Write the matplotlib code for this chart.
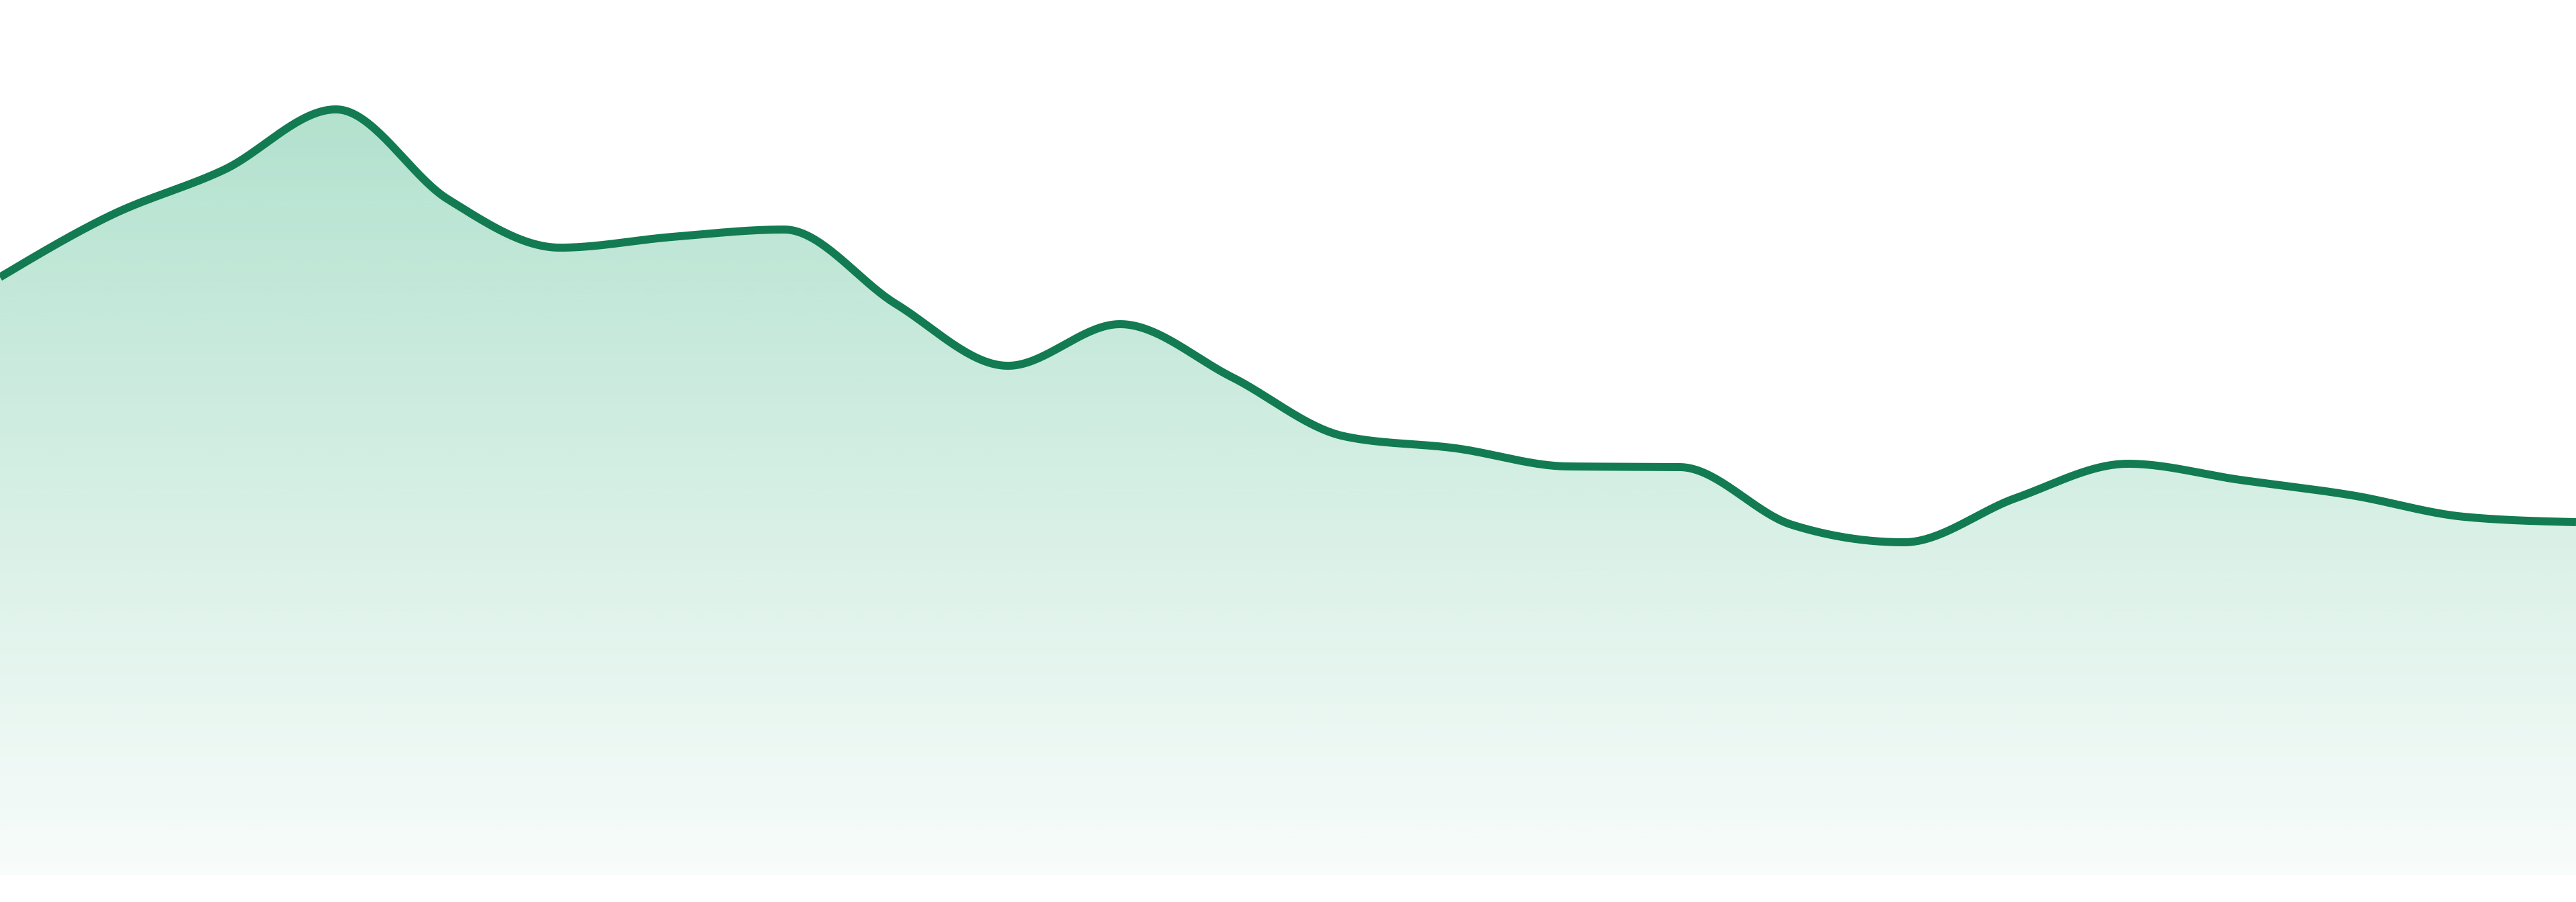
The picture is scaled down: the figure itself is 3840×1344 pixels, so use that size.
import numpy as np
import matplotlib
matplotlib.use("Agg")
import matplotlib.pyplot as plt
from matplotlib.patches import Polygon

# data (arbitrary units)
x_idx = list(range(24))
values = [891, 984, 1051, 1141, 1007, 935, 951, 962, 851, 759, 821, 742,
          654, 636, 609, 608, 522, 496, 562, 613, 589, 566, 534, 526]

line_color = "#127b52"
fill_rgb = (16, 163, 103)


def monotone_x(x, y, n=40):
    x = np.asarray(x, float); y = np.asarray(y, float)
    h = np.diff(x); s = np.diff(y) / h
    m = np.zeros_like(y)
    for i in range(1, len(y) - 1):
        if s[i - 1] * s[i] <= 0:
            m[i] = 0
        else:
            p = (s[i - 1] * h[i] + s[i] * h[i - 1]) / (h[i - 1] + h[i])
            m[i] = (np.sign(s[i - 1]) + np.sign(s[i])) * min(abs(s[i - 1]), abs(s[i]), 0.5 * abs(p))
    m[0] = (3 * s[0] - m[1]) / 2 if len(y) > 2 else s[0]
    m[-1] = (3 * s[-1] - m[-2]) / 2
    xs, ys = [], []
    for i in range(len(x) - 1):
        t = np.linspace(0, 1, n, endpoint=(i == len(x) - 2))
        h00 = 2 * t**3 - 3 * t**2 + 1
        h10 = t**3 - 2 * t**2 + t
        h01 = -2 * t**3 + 3 * t**2
        h11 = t**3 - t**2
        xs.append(x[i] + t * h[i])
        ys.append(h00 * y[i] + h10 * h[i] * m[i] + h01 * y[i + 1] + h11 * h[i] * m[i + 1])
    return np.concatenate(xs), np.concatenate(ys)


fig = plt.figure(figsize=(19.2, 6.72), dpi=200)
ax = fig.add_axes([0, 40 / 1344, 1, 1304 / 1344])
ax.set_xlim(0, 23)
ax.set_ylim(0, 1304)
ax.axis("off")

xs, ys = monotone_x(x_idx, values)

# gradient fill
ymax = max(values)
grad = np.zeros((256, 1, 4))
frac = np.linspace(0, 1, 256)  # 0 bottom, 1 top
alpha = 0.03 + (0.32 - 0.03) * frac
grad[:, 0, 0] = fill_rgb[0] / 255
grad[:, 0, 1] = fill_rgb[1] / 255
grad[:, 0, 2] = fill_rgb[2] / 255
grad[:, 0, 3] = alpha
im = ax.imshow(grad, extent=(0, 23, 0, ymax), origin="lower", aspect="auto", zorder=1,
               interpolation="bilinear")
poly = Polygon(np.column_stack([np.r_[xs, xs[-1], xs[0]], np.r_[ys, 0, 0]]),
               closed=True, facecolor="none", edgecolor="none")
ax.add_patch(poly)
im.set_clip_path(poly)

ax.plot(xs, ys, color=line_color, lw=4.3, solid_capstyle="butt", zorder=3)

fig.savefig("out.png", dpi=200, facecolor="white")
